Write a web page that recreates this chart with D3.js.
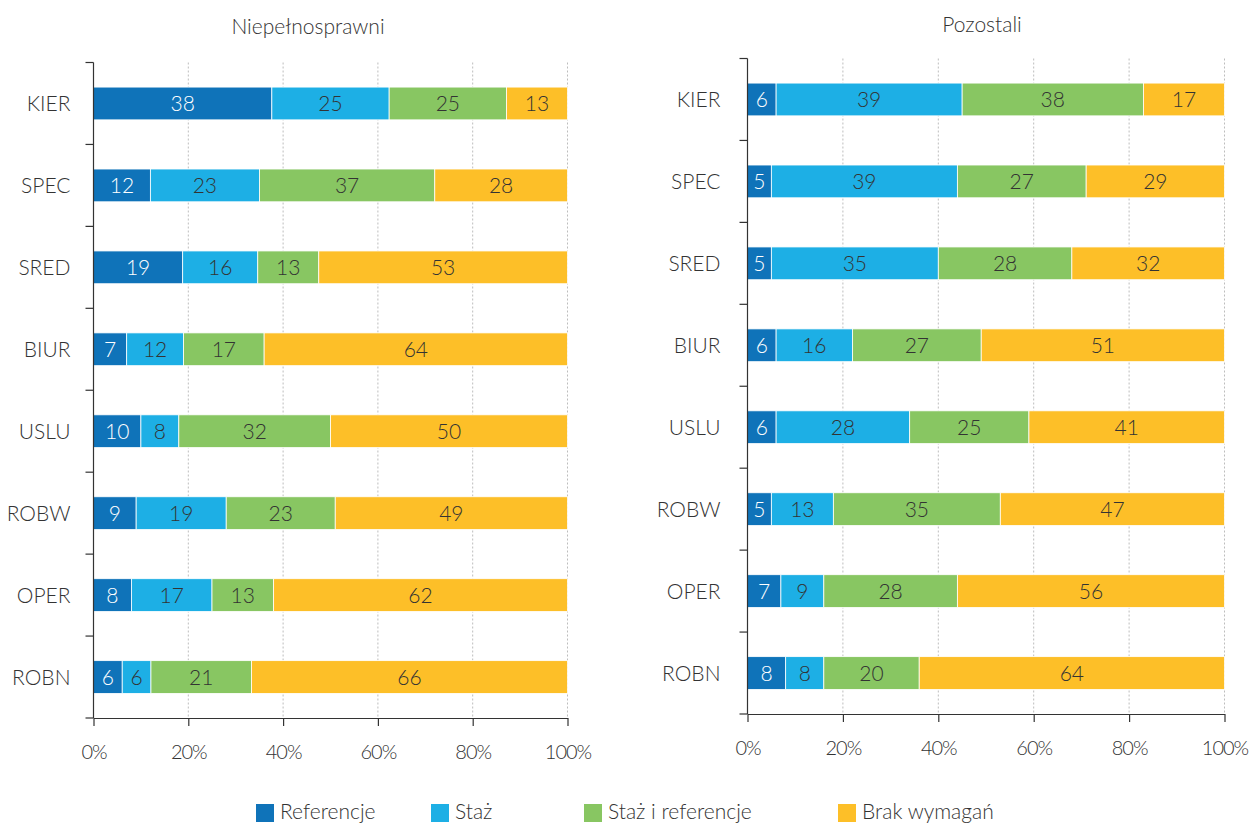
<!DOCTYPE html>
<html>
<head>
<meta charset="utf-8">
<script src="https://cdn.jsdelivr.net/npm/d3@7"></script>
<style>
  html, body { margin: 0; padding: 0; background: #fff; }
  svg { display: block; }
  text { font-family: "Lato", "Open Sans", sans-serif; font-weight: 300; fill: #333; }
</style>
</head>
<body>
<svg id="chart" width="1249" height="824"></svg>
<script>
// Job categories (top to bottom)
const categories = ["KIER", "SPEC", "SRED", "BIUR", "USLU", "ROBW", "OPER", "ROBN"];

// Requirement types (stack order, left to right)
const seriesNames = ["Referencje", "Staż", "Staż i referencje", "Brak wymagań"];

// Share of offers per requirement type, % – people with disabilities
const niepelnosprawniReferencje   = [38, 12, 19, 7, 10, 9, 8, 6];
const niepelnosprawniStaz         = [25, 23, 16, 12, 8, 19, 17, 6];
const niepelnosprawniStazRef      = [25, 37, 13, 17, 32, 23, 13, 21];
const niepelnosprawniBrak         = [13, 28, 53, 64, 50, 49, 62, 66];

// Share of offers per requirement type, % – everyone else
const pozostaliReferencje   = [6, 5, 5, 6, 6, 5, 7, 8];
const pozostaliStaz         = [39, 39, 35, 16, 28, 13, 9, 8];
const pozostaliStazRef      = [38, 27, 28, 27, 25, 35, 28, 20];
const pozostaliBrak         = [17, 29, 32, 51, 41, 47, 56, 64];

const panelTitles = ["Niepełnosprawni", "Pozostali"];
const tickValues = [0, 0.2, 0.4, 0.6, 0.8, 1];

const colors = ["#0f73b9", "#1dafe5", "#88c662", "#fdbf28"];
const labelColors = ["#ffffff", "#333333", "#333333", "#333333"];

function rows(a, b, c, d) {
  return categories.map((cat, i) => ({
    cat,
    [seriesNames[0]]: a[i],
    [seriesNames[1]]: b[i],
    [seriesNames[2]]: c[i],
    [seriesNames[3]]: d[i]
  }));
}

const panels = [
  { title: panelTitles[0], data: rows(niepelnosprawniReferencje, niepelnosprawniStaz, niepelnosprawniStazRef, niepelnosprawniBrak),
    x0: 93.5, x1: 567.5, y0: 62.5, y1: 718, titleX: 308, titleY: 34, labelGap: 23 },
  { title: panelTitles[1], data: rows(pozostaliReferencje, pozostaliStaz, pozostaliStazRef, pozostaliBrak),
    x0: 747.5, x1: 1224.5, y0: 58.5, y1: 714, titleX: 982, titleY: 32, labelGap: 27 }
];

const svg = d3.select("#chart");
const fontSize = 21;

const stack = d3.stack().keys(seriesNames).offset(d3.stackOffsetExpand);

panels.forEach(p => {
  const g = svg.append("g");
  const x = d3.scaleLinear().domain([0, 1]).range([p.x0, p.x1]);
  const y = d3.scaleBand().domain(categories).range([p.y0, p.y1]).paddingInner(0.6).paddingOuter(0.3);
  const stacked = stack(p.data);

  // title
  g.append("text")
    .attr("x", p.titleX).attr("y", p.titleY)
    .attr("text-anchor", "middle")
    .style("font-size", fontSize + "px")
    .text(p.title);

  // dotted vertical gridlines
  g.append("g").selectAll("line")
    .data(tickValues.slice(1))
    .join("line")
    .attr("x1", d => x(d)).attr("x2", d => x(d))
    .attr("y1", p.y0).attr("y2", p.y1)
    .attr("stroke", "#bdbdbd")
    .attr("stroke-width", 1)
    .attr("stroke-dasharray", "2,2");

  // stacked bars
  const layer = g.append("g").selectAll("g")
    .data(stacked)
    .join("g")
    .attr("fill", (d, i) => colors[i]);

  layer.selectAll("rect")
    .data(d => d)
    .join("rect")
    .attr("x", d => x(d[0]))
    .attr("y", d => y(d.data.cat))
    .attr("width", d => x(d[1]) - x(d[0]))
    .attr("height", y.bandwidth())
    .attr("stroke", "#ffffff")
    .attr("stroke-width", 0.8);

  // value labels
  stacked.forEach((s, si) => {
    g.append("g").selectAll("text")
      .data(s)
      .join("text")
      .attr("x", d => (x(d[0]) + x(d[1])) / 2)
      .attr("y", d => y(d.data.cat) + y.bandwidth() / 2)
      .attr("dy", "0.36em")
      .attr("text-anchor", "middle")
      .style("font-size", fontSize + "px")
      .style("fill", labelColors[si])
      .text(d => d.data[s.key]);
  });

  // bottom axis
  const xAxis = g.append("g")
    .attr("transform", `translate(0,${p.y1})`)
    .call(d3.axisBottom(x).tickValues(tickValues).tickFormat(d3.format(".0%")).tickSize(8).tickPadding(19).tickSizeOuter(0));
  xAxis.select(".domain").attr("stroke", "#333").attr("stroke-width", 1.2);
  xAxis.selectAll(".tick line").attr("stroke", "#333").attr("stroke-width", 1.2);
  xAxis.selectAll(".tick text")
    .style("font-family", "Lato, 'Open Sans', sans-serif")
    .style("font-weight", 300)
    .style("font-size", "20px")
    .style("letter-spacing", "-1px")
    .attr("fill", "#333");

  // left axis: line with ticks at category boundaries
  const step = (p.y1 - p.y0) / categories.length;
  const ay = g.append("g");
  ay.append("line")
    .attr("x1", p.x0).attr("x2", p.x0)
    .attr("y1", p.y0).attr("y2", p.y1)
    .attr("stroke", "#333").attr("stroke-width", 1.2);
  ay.selectAll("line.tick")
    .data(d3.range(categories.length + 1))
    .join("line")
    .attr("class", "tick")
    .attr("x1", p.x0 - 8).attr("x2", p.x0)
    .attr("y1", i => p.y0 + i * step).attr("y2", i => p.y0 + i * step)
    .attr("stroke", "#333").attr("stroke-width", 1.2);
  ay.selectAll("text")
    .data(categories)
    .join("text")
    .attr("x", p.x0 - p.labelGap)
    .attr("y", d => y(d) + y.bandwidth() / 2)
    .attr("dy", "0.36em")
    .attr("text-anchor", "end")
    .style("font-size", fontSize + "px")
    .text(d => d);
});

// legend
const legendX = [256, 431, 584, 838];
const legend = svg.append("g");
seriesNames.forEach((name, i) => {
  legend.append("rect")
    .attr("x", legendX[i]).attr("y", 804)
    .attr("width", 18).attr("height", 18)
    .attr("fill", colors[i]);
  legend.append("text")
    .attr("x", legendX[i] + 24).attr("y", 819)
    .style("font-size", fontSize + "px")
    .text(name);
});
</script>
</body>
</html>
